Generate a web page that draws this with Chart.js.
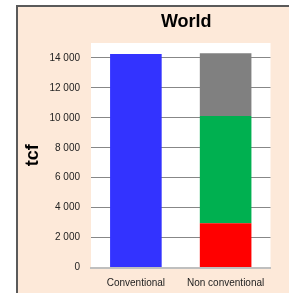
<!DOCTYPE html>
<html>
<head>
<meta charset="utf-8">
<script src="https://cdn.jsdelivr.net/npm/chart.js@4.4.1/dist/chart.umd.min.js"></script>
<style>
  html, body { margin: 0; padding: 0; width: 289px; height: 293px; overflow: hidden; background: #ffffff; }
  #frame { position: absolute; left: 16px; top: 5px; width: 400px; height: 400px; border: 2px solid #5a5a5a; background: #fde9d9; }
  #wrap { position: absolute; left: 0; top: 0; width: 289px; height: 293px; }
</style>
</head>
<body>
<div id="frame"></div>
<div id="wrap"><canvas id="c" width="289" height="293"></canvas></div>
<script>
const chartTitle = "World";
const yAxisTitle = "tcf";
const categories = ["Conventional", "Non conventional"];
const conventional = [14270, null];
const nonConvLower = [null, 2950];
const nonConvMiddle = [null, 7180];
const nonConvUpper = [null, 4190];
const yTicks = [0, 2000, 4000, 6000, 8000, 10000, 12000, 14000];
const yMax = 15000;

function fmt(v) {
  return String(v).replace(/\B(?=(\d{3})+(?!\d))/g, " ");
}

const layoutFix = {
  id: "layoutFix",
  afterLayout(chart) {
    const t = chart.titleBlock;
    if (t) { t.left += 11; }
  }
};

new Chart(document.getElementById("c"), {
  type: "bar",
  data: {
    labels: categories,
    datasets: [
      { label: "Conventional", data: conventional, backgroundColor: "#3333ff" },
      { label: "Lower", data: nonConvLower, backgroundColor: "#ff0000" },
      { label: "Middle", data: nonConvMiddle, backgroundColor: "#00b050" },
      { label: "Upper", data: nonConvUpper, backgroundColor: "#808080" }
    ]
  },
  plugins: [layoutFix, {
    id: "plotBg",
    beforeDraw(chart) {
      const a = chart.chartArea, ctx = chart.ctx;
      ctx.save(); ctx.fillStyle = "#ffffff";
      ctx.fillRect(a.left, a.top, a.right - a.left, a.bottom - a.top);
      ctx.restore();
    }
  }],
  options: {
    responsive: false,
    animation: false,
    devicePixelRatio: 1,
    layout: { padding: { left: 0, right: 18.5, top: 0, bottom: 0 } },
    datasets: { bar: { categoryPercentage: 1, barPercentage: 0.575, borderWidth: 0 } },
    plugins: {
      legend: { display: false },
      tooltip: { enabled: false },
      title: {
        display: true, text: chartTitle, fullSize: false, color: "#000000",
        font: { family: "Liberation Sans", size: 18, weight: "bold", lineHeight: 1.2 },
        padding: { top: 10.8, bottom: 10.6 }
      }
    },
    scales: {
      x: {
        stacked: true,
        grid: { display: false, drawTicks: false },
        border: { display: true, color: "#bfbfbf", width: 2 },
        ticks: { color: "#222222", padding: 9.5, font: { family: "Liberation Sans", size: 10 } },
        afterFit(s) { s.height = 25.5; }
      },
      y: {
        stacked: true, min: 0, max: yMax,
        afterBuildTicks(s) { s.ticks = yTicks.map(v => ({ value: v })); },
        grid: { color: (c) => c.tick && c.tick.value === 0 ? "rgba(0,0,0,0)" : "#878787", drawTicks: false, lineWidth: 1 },
        border: { display: false },
        ticks: { color: "#222222", padding: 11, font: { family: "Liberation Sans", size: 10 }, callback: (v) => fmt(v) },
        title: {
          display: true, text: yAxisTitle, color: "#000000",
          font: { family: "Liberation Sans", size: 18, weight: "bold", lineHeight: 1.2 },
          padding: { top: 22, bottom: 0 }
        },
        afterFit(s) { s.width = 91; }
      }
    }
  }
});
</script>
</body>
</html>
